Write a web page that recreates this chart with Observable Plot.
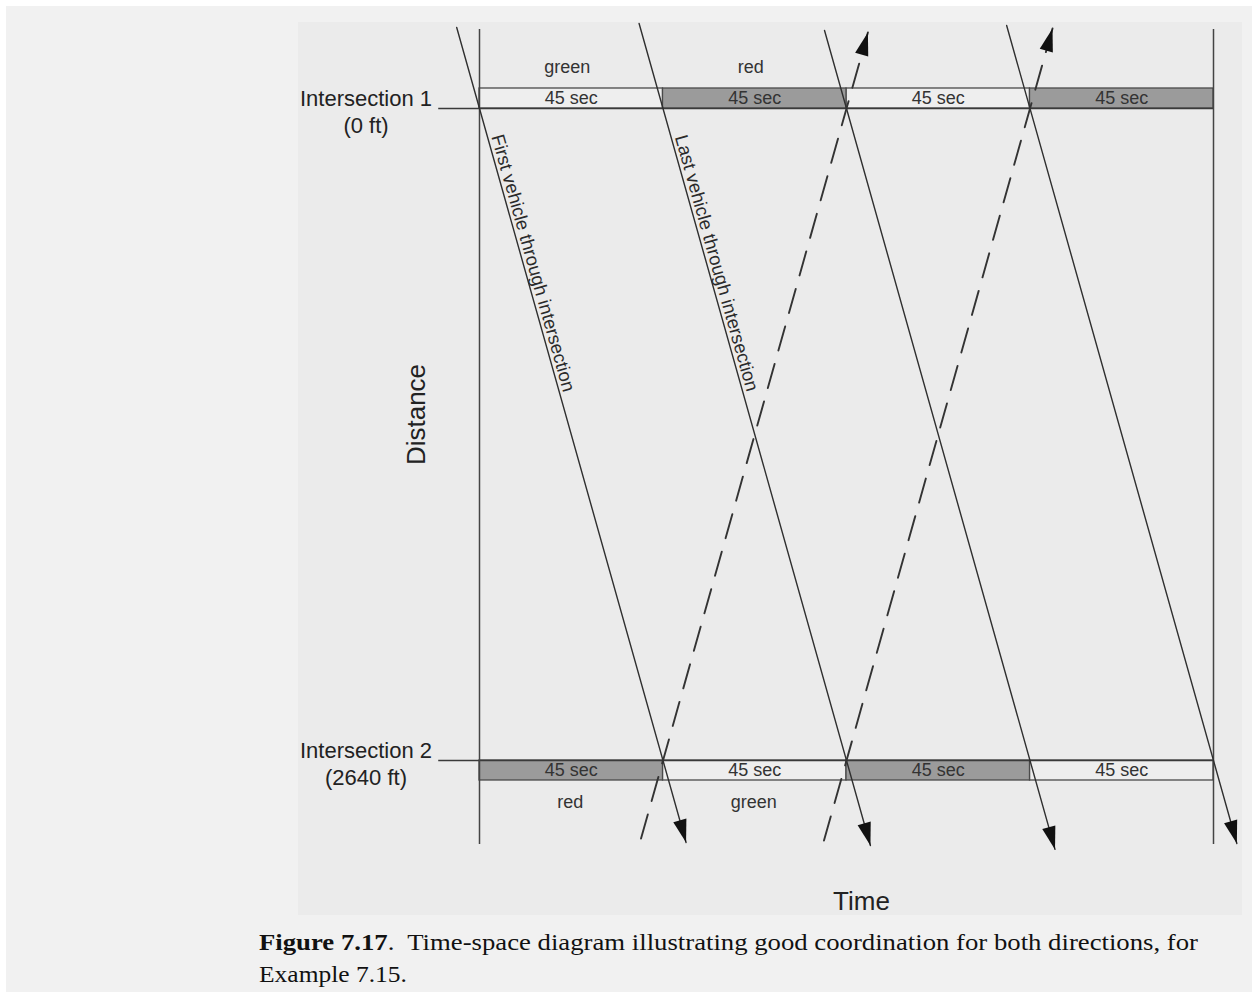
<!DOCTYPE html>
<html>
<head>
<meta charset="utf-8">
<script src="https://cdn.jsdelivr.net/npm/d3@7"></script>
<script src="https://cdn.jsdelivr.net/npm/@observablehq/plot@0.6"></script>
<style>
  html, body { margin: 0; padding: 0; background: #ffffff; }
  #page { position: absolute; left: 6px; top: 6px; width: 1246px; height: 986px; background: #f1f1f1; }
  #chart { position: absolute; left: 298px; top: 22px; line-height: 0; }
  #caption { position: absolute; left: 0; top: 920px; }
  #caption text { font-family: "Liberation Serif", "Times New Roman", Times, serif; font-size: 22.5px; fill: #111; white-space: pre; }
</style>
</head>
<body>
<div id="page"></div>
<div id="chart"></div>
<svg id="caption" width="1252" height="72" xmlns="http://www.w3.org/2000/svg">
  <text id="cap1" x="259" y="30" textLength="939" lengthAdjust="spacingAndGlyphs"></text>
  <text id="cap2" x="259" y="62" textLength="148" lengthAdjust="spacingAndGlyphs"></text>
</svg>
<script>
// ---------------- data ----------------
const signalTimes = [0, 45, 90, 135, 180];           // phase boundaries (s)
const phaseDurations = [45, 45, 45, 45];              // s
const intersectionNames = ["Intersection 1", "Intersection 2"];
const intersectionDistances = [0, 2640];              // ft
const intersectionDistLabels = ["(0 ft)", "(2640 ft)"];
const phasesInt1 = ["green", "red", "green", "red"];
const phasesInt2 = ["red", "green", "red", "green"];
const phaseNamesShown = 2;                            // only first two phases named
const travelTime = 45;                                // s between intersections

// southbound (solid) trajectories: time leaving Intersection 1, drawn extent (ft)
const sbDepart = [0, 45, 90, 135];
const sbTopDist = [-328, -344, -316, -336];
const sbEndDist = [2972, 2984, 3000, 2976];
const sbLabels = ["First vehicle through intersection", "Last vehicle through intersection"];
const sbLabelDist = 626;

// northbound (dashed) trajectories: time leaving Intersection 2, drawn extent (ft)
const nbDepart = [45, 90];
const nbStartDist = [2956, 2964];
const nbTopDist = [-308, -324];

const captionBold = "Figure 7.17";
const captionLine1 = ".  Time-space diagram illustrating good coordination for both directions, for";
const captionLine2 = "Example 7.15.";

// ---------------- derived tables ----------------
const span = intersectionDistances[1] - intersectionDistances[0];
const segments = [];
intersectionDistances.forEach((d, k) => {
  const phases = k === 0 ? phasesInt1 : phasesInt2;
  phases.forEach((p, i) => segments.push({
    k, d, i, t1: signalTimes[i], t2: signalTimes[i + 1], phase: p, dur: phaseDurations[i]
  }));
});
const sbTime = (i, d) => sbDepart[i] + (d / span) * travelTime;
const nbTime = (i, d) => nbDepart[i] + ((span - d) / span) * travelTime;

const sbPts = sbDepart.flatMap((t0, i) => [
  {id: i, t: sbTime(i, sbTopDist[i]), d: sbTopDist[i]},
  {id: i, t: sbTime(i, sbEndDist[i]), d: sbEndDist[i]}
]);
const nbPts = nbDepart.flatMap((t0, i) => [
  {id: i, t: nbTime(i, nbStartDist[i]), d: nbStartDist[i]},
  {id: i, t: nbTime(i, nbTopDist[i]), d: nbTopDist[i]}
]);
const sbHeads = sbDepart.map((t0, i) => ({t: sbTime(i, sbEndDist[i]), d: sbEndDist[i]}));
const nbHeads = nbDepart.map((t0, i) => ({t: nbTime(i, nbTopDist[i]), d: nbTopDist[i]}));
const sbLabelData = sbLabels.map((s, i) => ({text: s, t: sbTime(i, sbLabelDist), d: sbLabelDist}));
const intersections = intersectionNames.map((n, k) => ({name: n, sub: intersectionDistLabels[k], d: intersectionDistances[k], k}));

// ---------------- layout ----------------
const W = 944, H = 893;
const xRange = [181, 915];
const yRange = [86, 738];
const pxPerSec = (xRange[1] - xRange[0]) / (signalTimes[4] - signalTimes[0]);
const pxPerFt = (yRange[1] - yRange[0]) / span;
const dxPx = travelTime * pxPerSec, dyPx = span * pxPerFt;
const slopeDeg = Math.atan2(dyPx, dxPx) * 180 / Math.PI;

// filled arrowhead symbols with the tip at the origin
function arrowSymbol(ux, uy) {
  const len = Math.hypot(ux, uy); ux /= len; uy /= len;
  const nx = -uy, ny = ux, L = 23, hw = 6.8;
  const bx = -L * ux, by = -L * uy;
  return {draw(ctx) {
    ctx.moveTo(0, 0);
    ctx.lineTo(bx + hw * nx, by + hw * ny);
    ctx.lineTo(bx - hw * nx, by - hw * ny);
    ctx.closePath();
  }};
}
const arrowDown = arrowSymbol(dxPx, dyPx);
const arrowUp = arrowSymbol(dxPx, -dyPx);

const lineColor = "#2f2f2f";
const textColor = "#222";
const barStroke = "#4a4a4a";

const barMark = (k, phase) => Plot.rect(segments.filter(s => s.k === k && s.phase === phase), {
  x1: "t1", x2: "t2", y1: "d", y2: "d",
  ...(k === 0 ? {insetTop: -20} : {insetBottom: -20}),
  fill: phase === "red" ? "#9b9b9b" : "#eeeeee",
  stroke: barStroke, strokeWidth: 1.3
});

const chart = Plot.plot({
  width: W, height: H,
  marginLeft: 0, marginRight: 0, marginTop: 0, marginBottom: 0,
  x: {domain: [signalTimes[0], signalTimes[4]], range: xRange, axis: null},
  y: {domain: intersectionDistances, range: yRange, axis: null},
  style: {background: "#ebebeb", fontFamily: "'Liberation Sans', Arial, sans-serif", color: textColor},
  marks: [
    barMark(0, "green"), barMark(0, "red"),
    barMark(1, "green"), barMark(1, "red"),
    Plot.ruleY(intersections, {y: "d", x1: () => -10, x2: () => signalTimes[4], stroke: "#3a3a3a", strokeWidth: 1.6}),
    Plot.ruleX([signalTimes[0], signalTimes[4]], {x: d => d, y1: () => -320, y2: () => 2980, stroke: "#444", strokeWidth: 1.5}),
    Plot.line(sbPts, {x: "t", y: "d", z: "id", stroke: lineColor, strokeWidth: 1.4}),
    Plot.line(nbPts, {x: "t", y: "d", z: "id", stroke: "#333", strokeWidth: 1.9, strokeDasharray: "25,14"}),
    Plot.dot(sbHeads, {x: "t", y: "d", symbol: arrowDown, r: 5, fill: "#111", stroke: "none"}),
    Plot.dot(nbHeads, {x: "t", y: "d", symbol: arrowUp, r: 5, fill: "#111", stroke: "none"}),
    // duration labels inside bars
    Plot.text(segments.filter(s => s.k === 0), {x: s => (s.t1 + s.t2) / 2, y: "d", text: s => `${s.dur} sec`, dy: -10.3, fontSize: 18, fill: "#333", lineAnchor: "middle"}),
    Plot.text(segments.filter(s => s.k === 1), {x: s => (s.t1 + s.t2) / 2, y: "d", text: s => `${s.dur} sec`, dy: 9.7, fontSize: 18, fill: "#333", lineAnchor: "middle"}),
    // phase names
    Plot.text(segments.filter(s => s.k === 0 && s.i < phaseNamesShown), {x: s => (s.t1 + s.t2) / 2, y: "d", text: "phase", dx: -4, dy: -41, fontSize: 18, fill: "#333", lineAnchor: "middle"}),
    Plot.text(segments.filter(s => s.k === 1 && s.i < phaseNamesShown), {x: s => (s.t1 + s.t2) / 2, y: "d", text: "phase", dx: -1, dy: 42, fontSize: 18, fill: "#333", lineAnchor: "middle"}),
    // intersection labels
    Plot.text(intersections, {x: () => signalTimes[0], y: "d", text: "name", dx: -113.5, dy: -10, fontSize: 22, fill: textColor, textAnchor: "middle", lineAnchor: "middle"}),
    Plot.text(intersections, {x: () => signalTimes[0], y: "d", text: "sub", dx: -113.5, dy: 17.5, fontSize: 22, fill: textColor, textAnchor: "middle", lineAnchor: "middle"}),
    // trajectory labels
    Plot.text(sbLabelData, {x: "t", y: "d", text: "text", rotate: slopeDeg, dx: 10, fontSize: 18.5, fill: "#2a2a2a", textAnchor: "middle", lineAnchor: "middle"}),
    // axis titles
    Plot.text(["Distance"], {frameAnchor: "left", text: d => d, rotate: -90, dx: 118.5, dy: -54.5, fontSize: 26, fill: textColor, textAnchor: "middle", lineAnchor: "middle"}),
    Plot.text(["Time"], {frameAnchor: "bottom", text: d => d, dx: 91, dy: -13.5, fontSize: 26, fill: textColor, textAnchor: "middle", lineAnchor: "middle"})
  ]
});
document.getElementById("chart").appendChild(chart);

// caption
const cap1 = document.getElementById("cap1");
const b = document.createElementNS("http://www.w3.org/2000/svg", "tspan");
b.setAttribute("font-weight", "bold");
b.textContent = captionBold;
cap1.appendChild(b);
cap1.appendChild(document.createTextNode(captionLine1));
document.getElementById("cap2").textContent = captionLine2;
</script>
</body>
</html>
